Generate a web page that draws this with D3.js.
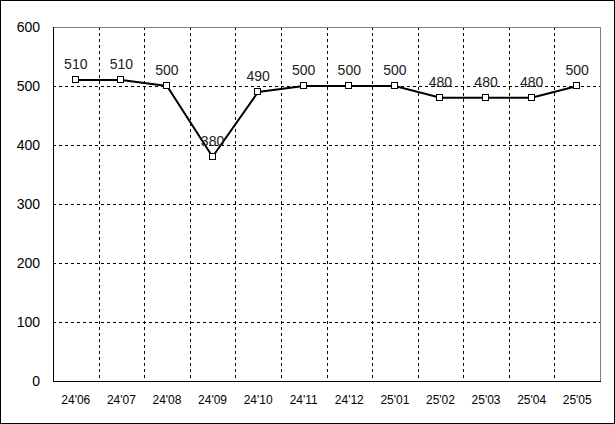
<!DOCTYPE html>
<html><head><meta charset="utf-8">
<script src="https://cdn.jsdelivr.net/npm/d3@7"></script>
<style>body{margin:0;background:#fff}svg{display:block}text{font-family:"Liberation Sans",Arial,sans-serif}</style>
</head><body><svg id="c" width="615" height="424"></svg>
<script>
const categories=["24'06","24'07","24'08","24'09","24'10","24'11","24'12","25'01","25'02","25'03","25'04","25'05"];
const values=[510,510,500,380,490,500,500,500,480,480,480,500];
const yTicks=[0,100,200,300,400,500,600];

const svg=d3.select("#c");
const m={l:53,t:27,r:600,b:381};
svg.append("rect").attr("x",0.5).attr("y",0.5).attr("width",614).attr("height",423).attr("fill","#fff").attr("stroke","#000");
const x=d3.scaleBand().domain(categories).range([m.l,m.r]);
const y=d3.scaleLinear().domain([0,600]).range([m.b,m.t]);
const g=svg.append("g");
// grid horizontal
g.selectAll(".hg").data(yTicks.filter(d=>d>0&&d<600)).join("line")
 .attr("x1",m.l).attr("x2",m.r).attr("y1",d=>Math.round(y(d))+0.5).attr("y2",d=>Math.round(y(d))+0.5)
 .attr("stroke","#000").attr("stroke-dasharray","3,3");
// grid vertical at band boundaries
g.selectAll(".vg").data(categories.slice(1)).join("line")
 .attr("x1",d=>Math.round(x(d))+0.5).attr("x2",d=>Math.round(x(d))+0.5).attr("y1",m.t).attr("y2",m.b)
 .attr("stroke","#000").attr("stroke-dasharray","3,3");
// frame
g.append("line").attr("x1",m.l).attr("x2",m.r).attr("y1",m.t+0.5).attr("y2",m.t+0.5).attr("stroke","#808080");
g.append("line").attr("x1",m.r+0.5).attr("x2",m.r+0.5).attr("y1",m.t).attr("y2",m.b).attr("stroke","#808080");
g.append("line").attr("x1",m.l+0.5).attr("x2",m.l+0.5).attr("y1",m.t).attr("y2",m.b+1).attr("stroke","#000");
g.append("line").attr("x1",m.l).attr("x2",m.r+1).attr("y1",m.b+0.5).attr("y2",m.b+0.5).attr("stroke","#000");
// y labels
g.selectAll(".yl").data(yTicks).join("text").attr("x",40).attr("y",d=>y(d)+5).attr("text-anchor","end")
 .attr("font-size",14).attr("fill","#000").text(d=>d);
// x labels
g.selectAll(".xl").data(categories).join("text").attr("x",d=>x(d)+x.bandwidth()/2).attr("y",404).attr("text-anchor","middle")
 .attr("font-size",12).attr("fill","#000").text(d=>d);
const cx=(d,i)=>x(categories[i])+x.bandwidth()/2;
const line=d3.line().x((d,i)=>cx(d,i)).y(d=>y(d));
g.append("path").datum(values).attr("d",line).attr("fill","none").attr("stroke","#000").attr("stroke-width",2);
g.selectAll(".mk").data(values).join("rect").attr("x",(d,i)=>Math.round(cx(d,i))-3.5).attr("y",d=>Math.round(y(d))-3.5)
 .attr("width",6).attr("height",6).attr("fill","#fff").attr("stroke","#000");
g.selectAll(".vl").data(values).join("text").attr("x",(d,i)=>cx(d,i)).attr("y",d=>y(d)-11).attr("text-anchor","middle")
 .attr("font-size",14).attr("fill","#222").text(d=>d);
</script></body></html>
